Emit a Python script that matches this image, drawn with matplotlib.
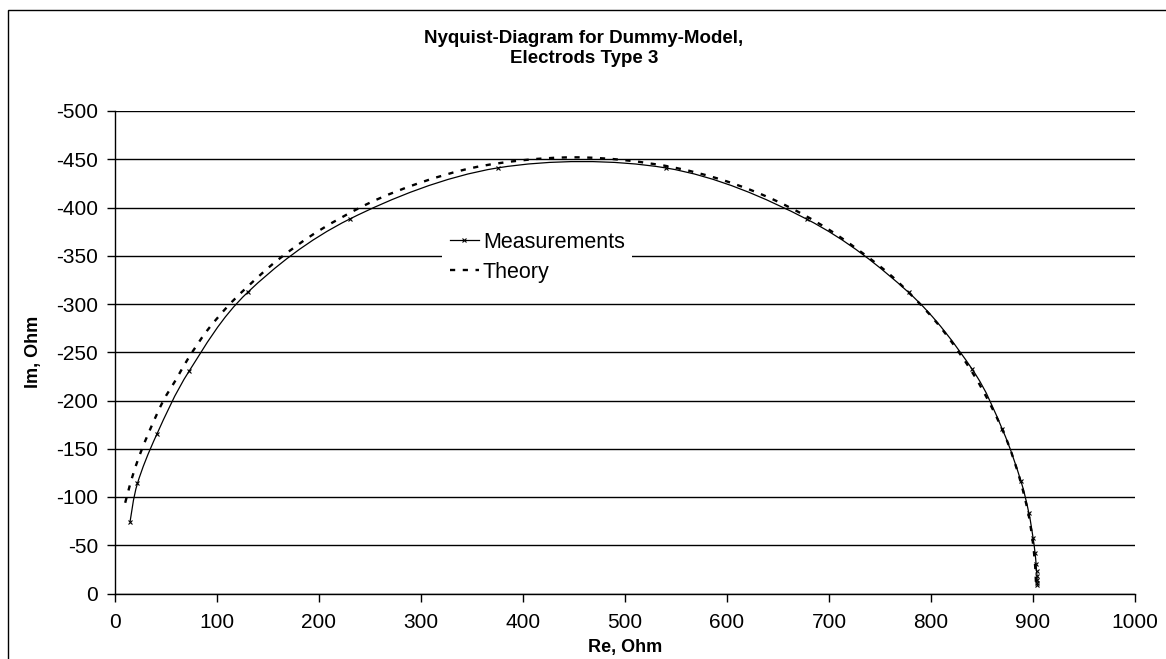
import matplotlib
matplotlib.use("Agg")
import matplotlib.pyplot as plt
from matplotlib.path import Path
from matplotlib.patches import PathPatch, Rectangle
from matplotlib.lines import Line2D
import numpy as np

plt.rcParams['font.family'] = ['Liberation Sans', 'DejaVu Sans']

# Measured impedance (Re, Im) in Ohm
meas_re = [14.7, 22, 41, 73, 130, 230, 375, 540, 678, 778, 840, 870, 888,
           896, 900, 902, 903, 903.5, 904, 904, 904, 904]
meas_im = [-74, -114, -165, -231, -312, -388, -441, -441, -388, -312, -233,
           -170, -117, -83, -58, -42, -31, -23, -18, -14, -11, -9]

# Model impedance (Re, Im) in Ohm
theo_re = [10, 13, 17, 24, 34, 47, 60, 72, 90, 110, 130, 160, 200, 250, 300,
           350, 400, 450, 500, 550, 600, 650, 700, 750, 780, 810, 840, 860,
           875, 887, 895, 899, 901, 902, 902.5, 903]
theo_im = [-94, -106, -121, -143, -169, -199, -222, -244, -272, -297, -318,
           -346, -376, -405, -426, -441, -449, -452, -449, -441, -427, -406,
           -377, -339, -310, -275, -230, -192, -157, -119, -85, -60, -42,
           -30, -21, -8]

x_ticks = [0, 100, 200, 300, 400, 500, 600, 700, 800, 900, 1000]
y_ticks = [0, -50, -100, -150, -200, -250, -300, -350, -400, -450, -500]


def smooth_path(xs, ys):
    """Cubic Bezier path through the points (Catmull-Rom style smoothing)."""
    p = np.column_stack([xs, ys]).astype(float)
    n = len(p)
    verts = [p[0]]
    codes = [Path.MOVETO]
    for i in range(n - 1):
        p0 = p[i - 1] if i > 0 else p[i]
        p1 = p[i]
        p2 = p[i + 1]
        p3 = p[i + 2] if i + 2 < n else p[i + 1]
        c1 = p1 + (p2 - p0) / 6.0
        c2 = p2 - (p3 - p1) / 6.0
        verts += [c1, c2, p2]
        codes += [Path.CURVE4] * 3
    return Path(verts, codes)


W, H = 1166, 659
fig = plt.figure(figsize=(W / 100, H / 100), dpi=100)
fig.patch.set_facecolor('white')

# chart-area frame
fig.patches.append(Rectangle((8 / W, -0.05), 1.2, 1 - 10 / H + 0.05,
                             transform=fig.transFigure, fill=False,
                             edgecolor='black', lw=1.0))

ax = fig.add_axes([115 / W, 1 - 593.5 / H, 1020 / W, (593.5 - 111) / H])
ax.set_xlim(0, 1000)
ax.set_ylim(0, -500)

for s in ['top', 'right']:
    ax.spines[s].set_visible(False)
for s in ['left', 'bottom']:
    ax.spines[s].set_linewidth(1.0)

ax.set_xticks(x_ticks)
ax.set_yticks(y_ticks)
ax.set_xticklabels([str(v) for v in x_ticks])
ax.set_yticklabels([str(v) for v in y_ticks])
ax.tick_params(direction='out', length=6, width=1.0, labelsize=15)
ax.tick_params(axis='x', pad=8)
ax.tick_params(axis='y', pad=6)
ax.yaxis.grid(True, color='black', lw=1.0)
ax.set_axisbelow(True)

# theory curve (dashed)
ax.add_patch(PathPatch(smooth_path(theo_re, theo_im), fill=False,
                       edgecolor='black', lw=1.7, linestyle=(0, (2.2, 3.2)),
                       zorder=3))
# measurement curve with markers
ax.add_patch(PathPatch(smooth_path(meas_re, meas_im), fill=False,
                       edgecolor='black', lw=0.9, zorder=4))
ax.plot(meas_re, meas_im, ls='none', marker='x', ms=3.5, mew=0.8,
        color='black', zorder=5)

ax.set_xlabel('Re, Ohm', fontsize=13, fontweight='bold', labelpad=5)
ax.set_ylabel('Im, Ohm', fontsize=13, fontweight='bold', labelpad=10)

fig.text(584 / W, 1 - 48.5 / H, 'Nyquist-Diagram for Dummy-Model,\nElectrods Type 3',
         ha='center', va='center', fontsize=13.5, fontweight='bold',
         linespacing=1.3)

handles = [
    Line2D([], [], color='black', lw=0.9, marker='x', ms=2.5, mew=0.8),
    Line2D([], [], color='black', lw=1.7, linestyle=(0, (2.2, 3.2))),
]
leg = ax.legend(handles, ['Measurements', 'Theory'], loc='upper left',
                bbox_to_anchor=((442 - 115) / 1020, (593.5 - 224) / (593.5 - 111)),
                frameon=True, fontsize=15.5, handlelength=1.35, handletextpad=0.2,
                labelspacing=0.42, borderpad=0.35, borderaxespad=0)
leg.get_frame().set_edgecolor('none')
leg.get_frame().set_facecolor('white')
leg.get_frame().set_alpha(1)

fig.savefig('out.png', dpi=100)
